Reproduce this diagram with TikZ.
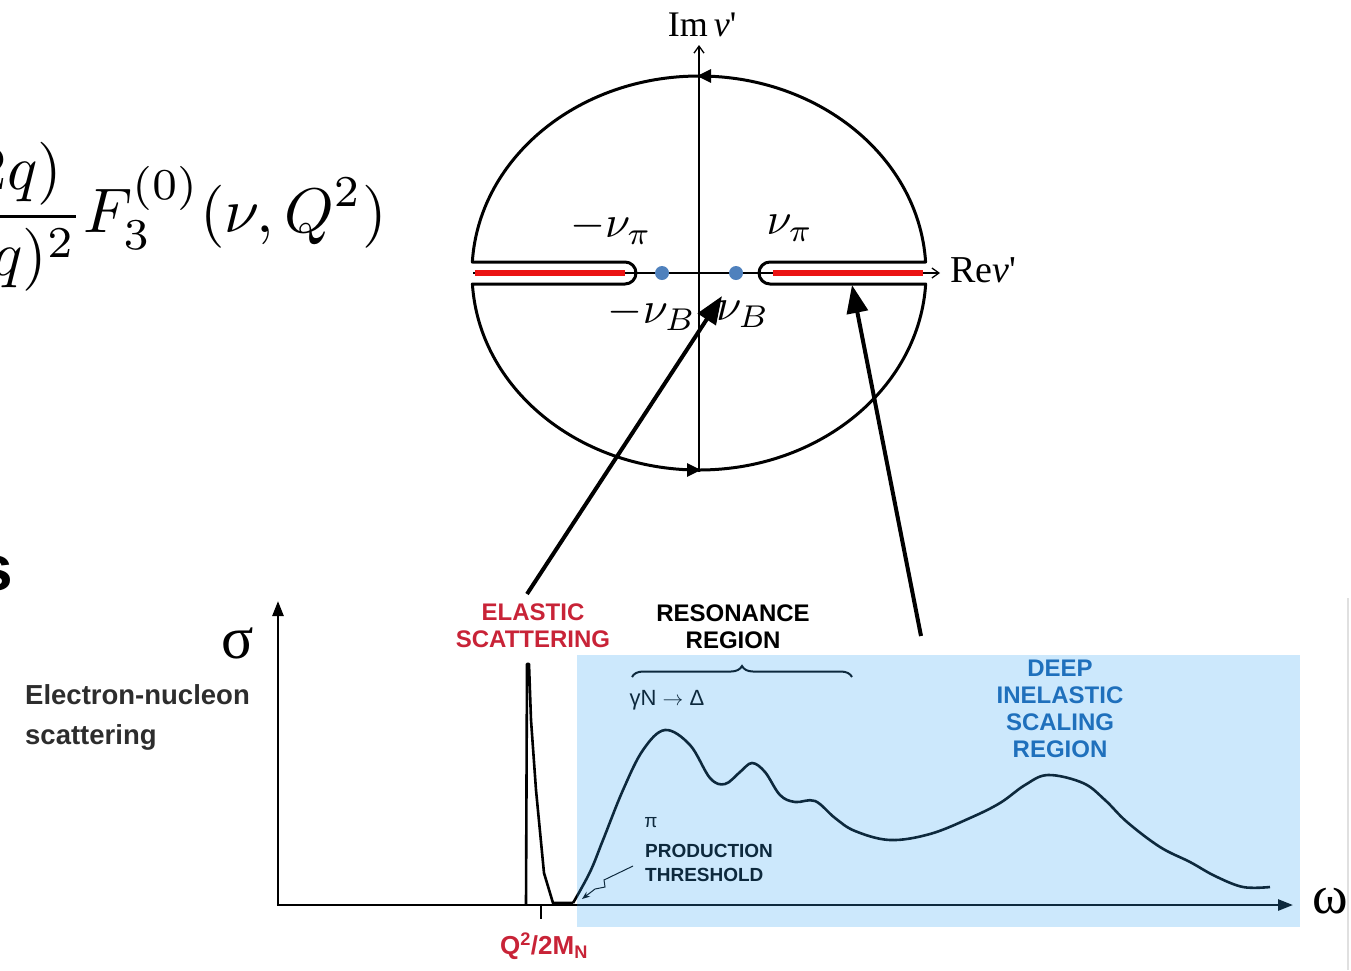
\documentclass[tikz,border=0pt]{standalone}
\usepackage{fontspec}
\newfontfamily\arialfont{Liberation Sans}
\newfontfamily\timesfont{Liberation Serif}
\usetikzlibrary{
  arrows.meta,
  positioning,
  decorations.pathreplacing
}
\definecolor{CutRed}{RGB}{235, 20, 20}
\definecolor{PoleBlue}{RGB}{79, 129, 189}
\definecolor{ElasticRed}{RGB}{200, 35, 55}
\definecolor{DeepBlue}{RGB}{25, 95, 170}
\definecolor{SkyWash}{RGB}{52, 164, 244}
\definecolor{LabelGray}{RGB}{45, 45, 45}
\tikzset{
    contour/.style={line width=3pt, line join=round},
    axisline/.style={line width=1.3pt, -{Straight Barb[length=7pt, width=10pt]}},
    bigarrow/.style={line width=4pt, -{Triangle[length=28pt, width=21pt]}},
    plotaxis/.style={line width=2.5pt, -{Triangle[length=15pt, width=11pt]}},
    plotlabel/.style={font=\arialfont\bfseries\fontsize{24}{27}\selectfont, align=center, inner sep=0pt},
    nulabel/.style={inner sep=0pt, scale=4.5},
}

\begin{document}
\begin{tikzpicture}[x=1pt, y=-1pt]
    \useasboundingbox (0,0) rectangle (1351,970);

    % cropped formula and heading on the left
    \node[anchor=east, inner sep=0pt, scale=6.3] (formula) at (388,217) {
        $\displaystyle\frac{\hphantom{MMM}2q)}{\hphantom{MMMq}q)^2}F_3^{(0)}(\nu,Q^2)$};
    \node[anchor=east, inner sep=0pt, font=\arialfont\bfseries\fontsize{64}{64}\selectfont] (heading) at (13,574) {s};

    % contour in the complex plane
    \begin{scope}[shift={(699,273)}, y=1pt]
        \coordinate (origin) at (0,0);
        \coordinate (imEnd) at (0,228);
        \coordinate (imStart) at (0,-199);
        \coordinate (reStart) at (-226,0);
        \coordinate (reEnd) at (241,0);
        \draw[axisline] (imStart) -- (imEnd);
        \draw[axisline] (reStart) -- (reEnd);
        \draw[CutRed, line width=5.5pt] (-224,0) -- (-74,0);
        \draw[CutRed, line width=5.5pt] (74,0) -- (224,0);
        \fill[PoleBlue] (-37,0) circle (7);
        \fill[PoleBlue] (37,0) circle (7);
        \draw[contour] (226.6,11) arc[start angle=3.2, end angle=176.8, x radius=227, y radius=197]
            -- (-74,11) arc[start angle=90, end angle=-90, radius=11]
            -- (-226.6,-11) arc[start angle=183.2, end angle=356.8, x radius=227, y radius=197]
            -- (71,-11) arc[start angle=-90, end angle=-270, radius=11] -- cycle;
        \draw[line width=3pt, -{Triangle[length=14pt, width=13pt]}] (6,197) -- (-2,197);
        \draw[line width=3pt, -{Triangle[length=14pt, width=13pt]}] (-6,-197) -- (2,-197);
    \end{scope}

    \node[font=\timesfont\fontsize{36}{38}\selectfont, inner sep=0pt] (imlabel) at (702,25) {Im\,\textit{ν}\textquotesingle};
    \node[font=\timesfont\fontsize{38}{40}\selectfont, inner sep=0pt, anchor=west] (relabel) at (950,270) {Re\textit{ν}\textquotesingle};
    \node[nulabel] (mnupi) at (611,228) {$-\nu_{\pi}$};
    \node[nulabel] (nupi) at (790,228) {$\nu_{\pi}$};
    \node[nulabel] (mnuB) at (652,314) {$-\nu_{B}$};
    \node[nulabel] (nuB) at (743,314) {$\nu_{B}$};

    % cross section plot
    \coordinate (plotOrigin) at (278,905);
    \coordinate (sigmaEnd) at (278,601);
    \coordinate (omegaEnd) at (1293,905);
    \draw[plotaxis] (plotOrigin) -- (sigmaEnd);
    \draw[plotaxis] ([xshift=-1.2pt]plotOrigin) -- (omegaEnd);
    \draw[line width=2pt] (541,905) -- (541,919);

    \draw[line width=2.6pt, line join=round] (526,905) -- (527,664) -- (529,664) -- (531,720) -- (536,790)
        -- (544,873) -- (553,903) -- (573,903);
    \draw[line width=2.6pt] plot[smooth, tension=0.6] coordinates {(573,903) (590,872) (603,840)
        (623,790) (643,750) (665,730) (690,745) (710,778) (725,784) (740,772) (752,763) (765,772)
        (780,795) (795,802) (815,801) (835,818) (855,831) (890,840) (930,834) (970,818) (1000,803)
        (1025,785) (1048,775) (1083,783) (1105,800) (1127,822) (1160,847) (1190,862) (1215,876)
        (1243,887) (1270,887)};

    \draw[line width=2pt, decorate, decoration={brace, amplitude=11pt}] (632,677) -- (852,677);

    \node[plotlabel, text=ElasticRed] (elastic) at (533,626) {ELASTIC\\SCATTERING};
    \node[plotlabel] (resonance) at (733,627) {RESONANCE\\REGION};
    \node[plotlabel, text=DeepBlue] (deep) at (1060,709) {DEEP\\INELASTIC\\SCALING\\REGION};
    \node[font=\arialfont\bfseries\fontsize{27.5}{40}\selectfont, text=LabelGray, align=left,
        anchor=west, inner sep=0pt] (electron) at (25,717) {Electron-nucleon\\scattering};
    \node[font=\timesfont\fontsize{60}{60}\selectfont, inner sep=0pt] (sigma) at (238,643) {σ};
    \node[font=\timesfont\fontsize{54}{54}\selectfont, inner sep=0pt] (omega) at (1330,901) {ω};
    \node[font=\arialfont\fontsize{22}{24}\selectfont, inner sep=0pt] (gammaN) at (667,700) {γN $\rightarrow$ Δ};
    \node[font=\arialfont\fontsize{19}{20}\selectfont, inner sep=0pt] (pion) at (651,823) {π};
    \node[font=\arialfont\bfseries\fontsize{19}{24}\selectfont, align=left, anchor=west,
        inner sep=0pt] (threshold) at (645,863) {PRODUCTION\\THRESHOLD};
    \node[font=\arialfont\bfseries\fontsize{26}{28}\selectfont, text=ElasticRed, inner sep=0pt]
        (qlabel) at (544,946) {Q\textsuperscript{2}/2M\textsubscript{N}};

    % squiggly pointer to the threshold
    \coordinate (squigStart) at (633,866);
    \coordinate (squigEnd) at (582,899);
    \draw[line width=1pt, -{Stealth[length=8pt, width=6pt]}] (squigStart) -- (604,880) -- (605,887)
        -- (595,889) -- (squigEnd);

    % shaded region laid over the curves
    \fill[SkyWash, fill opacity=0.25] (577,655) rectangle (1300,927);

    % arrows from the plot to the contour
    \coordinate (nuBtip) at (722,296);
    \coordinate (cutRight) at (852,285);
    \coordinate (elasticTail) at (527,594);
    \coordinate (deepTail) at (921,636);
    \draw[bigarrow] (elasticTail) -- (nuBtip);
    \draw[bigarrow] (deepTail) -- (cutRight);

    \draw[black!12, line width=1.5pt] (1348,598) -- (1348,970);
\end{tikzpicture}
\end{document}
